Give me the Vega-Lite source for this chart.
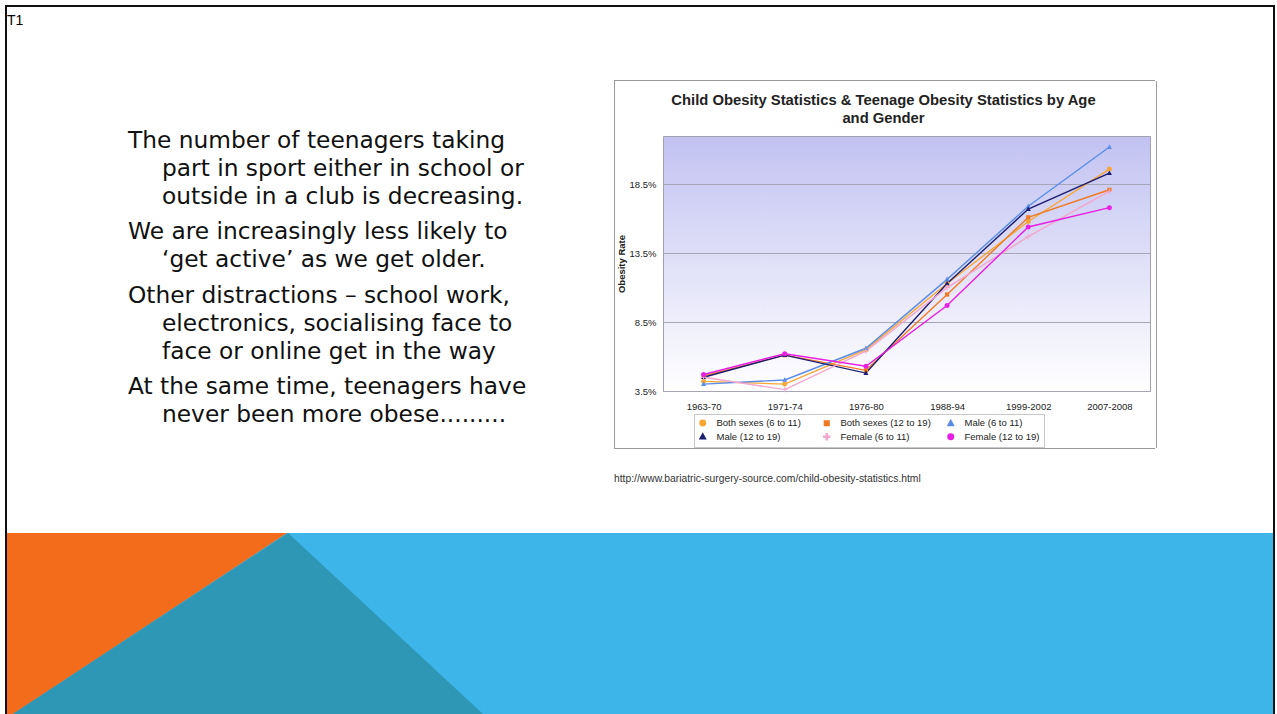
{
  "$schema": "https://vega.github.io/schema/vega-lite/v6.json",
  "background": "white",
  "padding": {"left": 5, "top": 5, "right": 0, "bottom": 0},
  "config": {"view": {"stroke": null}, "concat": {"spacing": 0}, "font": "Liberation Sans"},
  "spacing": 0,
  "vconcat": [
    {"width": 1270, "height": 2, "data": {"values": []}, "mark": "point", "view": {"fill": "#111111", "stroke": null}},
    {
      "spacing": 0,
      "hconcat": [
        {"width": 2, "height": 707, "data": {"values": []}, "mark": "point", "view": {"fill": "#111111", "stroke": null}},
        {
          "spacing": 0,
          "vconcat": [
            {
              "spacing": 0,
              "hconcat": [
                {
                  "width": 607,
                  "height": 526,
                  "title": {"text": "T1", "anchor": "start", "offset": -21, "fontSize": 14, "font": "Liberation Sans", "fontWeight": "normal", "color": "#000000"},
                  "data": {"values": [
                    {"row": 1, "para": 1, "kind": "first", "text": "The number of teenagers taking"},
                    {"row": 2, "para": 1, "kind": "cont", "text": "part in sport either in school or"},
                    {"row": 3, "para": 1, "kind": "cont", "text": "outside in a club is decreasing."},
                    {"row": 4, "para": 2, "kind": "first", "text": "We are increasingly less likely to"},
                    {"row": 5, "para": 2, "kind": "cont", "text": "‘get active’ as we get older."},
                    {"row": 6, "para": 3, "kind": "first", "text": "Other distractions – school work,"},
                    {"row": 7, "para": 3, "kind": "cont", "text": "electronics, socialising face to"},
                    {"row": 8, "para": 3, "kind": "cont", "text": "face or online get in the way"},
                    {"row": 9, "para": 4, "kind": "first", "text": "At the same time, teenagers have"},
                    {"row": 10, "para": 4, "kind": "cont", "text": "never been more obese........."}
                  ]},
                  "mark": {"type": "text", "align": "left", "baseline": "alphabetic", "font": "DejaVu Sans", "fontSize": 23.3, "color": "#111111"},
                  "encoding": {
                    "x": {"field": "kind", "type": "nominal", "scale": {"type": "point", "domain": ["first", "cont"], "range": [121, 155], "padding": 0}, "axis": null},
                    "y": {"field": "row", "type": "ordinal", "scale": {"type": "point", "range": [141, 393], "padding": 0}, "axis": null},
                    "yOffset": {"field": "para", "type": "quantitative", "scale": {"domain": [1, 4], "range": [0, 22]}},
                    "text": {"field": "text"}
                  }
                },
                {
                  "spacing": 0,
                  "vconcat": [
                    {"width": 541, "height": 73, "data": {"values": []}, "mark": "point"},
                    {"width": 541, "height": 1, "data": {"values": []}, "mark": "point", "view": {"fill": "#9a9a9a", "stroke": null}},
                    {
                      "spacing": 0,
                      "hconcat": [
                        {"width": 1, "height": 367, "data": {"values": []}, "mark": "point", "view": {"fill": "#9a9a9a", "stroke": null}},
                        {
                          "spacing": 0,
                          "bounds": "flush",
                          "vconcat": [
                            {"width": 487, "height": 55, "data": {"values": []}, "mark": "point"},
                            {
                              "width": 487,
                              "height": 255,
                              "title": {"text": ["Child Obesity Statistics & Teenage Obesity Statistics by Age", "and Gender"], "fontSize": 14.8, "font": "Liberation Sans", "fontWeight": "bold", "color": "#222222", "lineHeight": 18, "offset": 10, "dx": -23, "anchor": "middle"},
                              "view": {"fill": {"gradient": "linear", "x1": 0, "y1": 0, "x2": 0, "y2": 1, "stops": [{"offset": 0, "color": "#c2c2f2"}, {"offset": 1, "color": "#ffffff"}]}, "stroke": "#a0a0ae", "strokeWidth": 1},
                              "data": {"values": [
                                {"period": "1963-70", "group": "Both sexes (6 to 11)", "rate": 4.2},
                                {"period": "1971-74", "group": "Both sexes (6 to 11)", "rate": 4.0},
                                {"period": "1976-80", "group": "Both sexes (6 to 11)", "rate": 6.5},
                                {"period": "1988-94", "group": "Both sexes (6 to 11)", "rate": 11.3},
                                {"period": "1999-2002", "group": "Both sexes (6 to 11)", "rate": 15.8},
                                {"period": "2007-2008", "group": "Both sexes (6 to 11)", "rate": 19.6},
                                {"period": "1963-70", "group": "Both sexes (12 to 19)", "rate": 4.6},
                                {"period": "1971-74", "group": "Both sexes (12 to 19)", "rate": 6.1},
                                {"period": "1976-80", "group": "Both sexes (12 to 19)", "rate": 5.0},
                                {"period": "1988-94", "group": "Both sexes (12 to 19)", "rate": 10.5},
                                {"period": "1999-2002", "group": "Both sexes (12 to 19)", "rate": 16.1},
                                {"period": "2007-2008", "group": "Both sexes (12 to 19)", "rate": 18.1},
                                {"period": "1963-70", "group": "Male (6 to 11)", "rate": 4.0},
                                {"period": "1971-74", "group": "Male (6 to 11)", "rate": 4.3},
                                {"period": "1976-80", "group": "Male (6 to 11)", "rate": 6.6},
                                {"period": "1988-94", "group": "Male (6 to 11)", "rate": 11.6},
                                {"period": "1999-2002", "group": "Male (6 to 11)", "rate": 16.9},
                                {"period": "2007-2008", "group": "Male (6 to 11)", "rate": 21.2},
                                {"period": "1963-70", "group": "Male (12 to 19)", "rate": 4.5},
                                {"period": "1971-74", "group": "Male (12 to 19)", "rate": 6.1},
                                {"period": "1976-80", "group": "Male (12 to 19)", "rate": 4.8},
                                {"period": "1988-94", "group": "Male (12 to 19)", "rate": 11.3},
                                {"period": "1999-2002", "group": "Male (12 to 19)", "rate": 16.7},
                                {"period": "2007-2008", "group": "Male (12 to 19)", "rate": 19.3},
                                {"period": "1963-70", "group": "Female (6 to 11)", "rate": 4.5},
                                {"period": "1971-74", "group": "Female (6 to 11)", "rate": 3.6},
                                {"period": "1976-80", "group": "Female (6 to 11)", "rate": 6.4},
                                {"period": "1988-94", "group": "Female (6 to 11)", "rate": 11.0},
                                {"period": "1999-2002", "group": "Female (6 to 11)", "rate": 14.7},
                                {"period": "2007-2008", "group": "Female (6 to 11)", "rate": 18.0},
                                {"period": "1963-70", "group": "Female (12 to 19)", "rate": 4.7},
                                {"period": "1971-74", "group": "Female (12 to 19)", "rate": 6.2},
                                {"period": "1976-80", "group": "Female (12 to 19)", "rate": 5.3},
                                {"period": "1988-94", "group": "Female (12 to 19)", "rate": 9.7},
                                {"period": "1999-2002", "group": "Female (12 to 19)", "rate": 15.4},
                                {"period": "2007-2008", "group": "Female (12 to 19)", "rate": 16.8}
                              ]},
                              "encoding": {
                                "x": {
                                  "field": "period", "type": "ordinal",
                                  "sort": ["1963-70", "1971-74", "1976-80", "1988-94", "1999-2002", "2007-2008"],
                                  "scale": {"type": "point", "padding": 0.5},
                                  "axis": {"title": null, "labelAngle": 0, "labelFontSize": 9.5, "labelFont": "Liberation Sans", "labelColor": "#222222", "ticks": false, "tickSize": 0, "domain": false, "labelPadding": 10, "grid": false}
                                },
                                "y": {
                                  "field": "rate", "type": "quantitative",
                                  "scale": {"domain": [3.5, 22], "nice": false, "zero": false},
                                  "axis": {"title": "Obesity Rate", "values": [3.5, 8.5, 13.5, 18.5], "labelExpr": "format(datum.value, '.1f') + '%'", "labelFontSize": 9.5, "labelFont": "Liberation Sans", "labelColor": "#222222", "ticks": false, "tickSize": 0, "domain": false, "labelPadding": 7, "grid": true, "gridColor": "#a6a6b6", "gridWidth": 1, "titleFontSize": 9.5, "titleFont": "Liberation Sans", "titleFontWeight": "bold", "titleColor": "#222222", "titlePadding": 3}
                                },
                                "color": {
                                  "field": "group", "type": "nominal",
                                  "scale": {"domain": ["Both sexes (6 to 11)", "Both sexes (12 to 19)", "Male (6 to 11)", "Male (12 to 19)", "Female (6 to 11)", "Female (12 to 19)"], "range": ["#f8a634", "#f07a22", "#5a8de8", "#1d1d72", "#f3a7cc", "#e81ee4"]},
                                  "legend": {
                                    "title": null, "orient": "none", "legendX": 689, "legendY": 409,
                                    "columns": 3, "direction": "horizontal", "gridAlign": "all",
                                    "columnPadding": 13, "rowPadding": 1, "padding": 4,
                                    "strokeColor": "#c8c8c8", "fillColor": "#ffffff",
                                    "labelFontSize": 9.5, "labelFont": "Liberation Sans", "labelColor": "#222222", "labelOffset": 9,
                                    "symbolSize": 30
                                  }
                                }
                              },
                              "layer": [
                                {"mark": {"type": "line", "strokeWidth": 1.4}},
                                {
                                  "mark": {"type": "point", "filled": true, "size": 25, "opacity": 1},
                                  "encoding": {
                                    "shape": {
                                      "field": "group", "type": "nominal", "legend": null,
                                      "scale": {"domain": ["Both sexes (6 to 11)", "Both sexes (12 to 19)", "Male (6 to 11)", "Male (12 to 19)", "Female (6 to 11)", "Female (12 to 19)"], "range": ["M-1,0A1,1,0,1,1,1,0A1,1,0,1,1,-1,0Z", "M-0.85,-0.85H0.85V0.85H-0.85Z", "M0,-1.1L1,0.75H-1Z", "M0,-1.1L1,0.75H-1Z", "M-1.1,-0.2H-0.2V-1.1H0.2V-0.2H1.1V0.2H0.2V1.1H-0.2V0.2H-1.1Z", "M-1,0A1,1,0,1,1,1,0A1,1,0,1,1,-1,0Z"]}
                                    }
                                  }
                                }
                              ]
                            },
                            {"width": 487, "height": 57, "data": {"values": []}, "mark": "point"}
                          ]
                        },
                        {"width": 5, "height": 367, "data": {"values": []}, "mark": "point"},
                        {"width": 1, "height": 367, "data": {"values": []}, "mark": "point", "view": {"fill": "#9a9a9a", "stroke": null}}
                      ]
                    },
                    {
                      "width": 541, "height": 1, "data": {"values": []}, "mark": "point", "view": {"fill": "#9a9a9a", "stroke": null},
                      "title": {"text": "http://www.bariatric-surgery-source.com/child-obesity-statistics.html", "orient": "bottom", "anchor": "start", "offset": 25, "fontSize": 10.3, "font": "Liberation Sans", "fontWeight": "normal", "color": "#333333"}
                    }
                  ]
                }
              ]
            },
            {
              "width": 1266,
              "height": 181,
              "view": {"fill": "#3db5e8", "stroke": null},
              "data": {"values": [
                {"piece": "orange", "u": 0, "v1": 0, "v2": 1},
                {"piece": "orange", "u": 0.0047, "v1": 0, "v2": 1},
                {"piece": "orange", "u": 0.2212, "v1": 0, "v2": 0},
                {"piece": "teal", "u": 0.0047, "v1": 1, "v2": 1},
                {"piece": "teal", "u": 0.222, "v1": 0, "v2": 1},
                {"piece": "teal", "u": 0.376, "v1": 1, "v2": 1}
              ]},
              "mark": {"type": "area", "interpolate": "linear", "opacity": 1},
              "encoding": {
                "x": {"field": "u", "type": "quantitative", "scale": {"domain": [0, 1], "nice": false}, "axis": null},
                "y": {"field": "v1", "type": "quantitative", "stack": null, "scale": {"domain": [0, 1], "reverse": true, "nice": false}, "axis": null},
                "y2": {"field": "v2"},
                "fill": {"field": "piece", "type": "nominal", "scale": {"domain": ["orange", "teal"], "range": ["#f36c1c", "#2e97b6"]}, "legend": null}
              }
            }
          ]
        },
        {"width": 2, "height": 707, "data": {"values": []}, "mark": "point", "view": {"fill": "#111111", "stroke": null}}
      ]
    }
  ]
}
